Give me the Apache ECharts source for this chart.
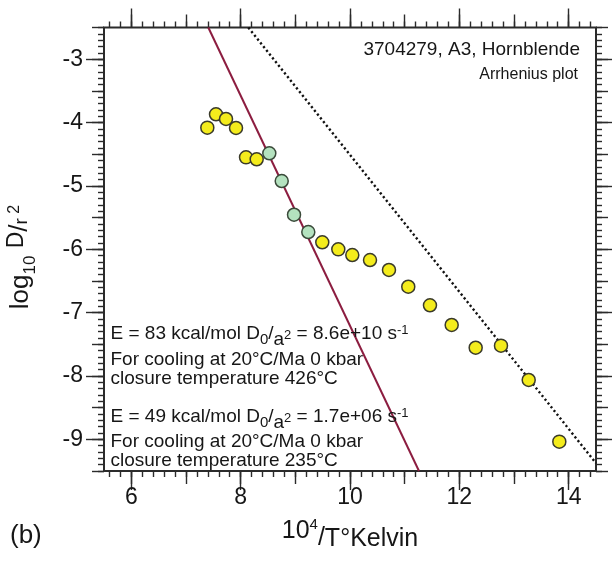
<!DOCTYPE html>
<html><head><meta charset="utf-8">
<script src="https://cdn.jsdelivr.net/npm/echarts@6/dist/echarts.min.js"></script>
<style>html,body{margin:0;padding:0;background:#fff}#c{width:612px;height:562px}</style>
</head><body><div id="c"></div><script>
// ---- data ----
const yellowX = [7.390, 7.549, 7.732, 7.915, 8.098, 8.293, 9.493, 9.786, 10.042, 10.366, 10.713, 11.066, 11.463, 11.860, 12.299, 12.762, 13.269, 13.829];
const yellowY = [-4.081, -3.870, -3.944, -4.086, -4.549, -4.580, -5.890, -6.001, -6.091, -6.170, -6.327, -6.591, -6.884, -7.195, -7.554, -7.522, -8.063, -9.037];
const greenX = [8.524, 8.751, 8.976, 9.237];
const greenY = [-4.485, -4.923, -5.455, -5.728];
const fitSolidX = [7.408, 11.262];
const fitSolidY = [-2.5, -9.5];
const fitDotX = [8.14, 14.5];
const fitDotY = [-2.5, -9.375];
const xRange = [5.5, 14.5];
const yRange = [-9.5, -2.5];
const xTickLabels = [6, 8, 10, 12, 14];
const yTickLabels = [-9, -8, -7, -6, -5, -4, -3];

// ---- layout ----
const L = 104, T = 27.5, W = 492, H = 443.5;
const pxX = W / (xRange[1] - xRange[0]);
const pxY = H / (yRange[1] - yRange[0]);
const FONT = '"Liberation Sans", Arial, Helvetica, sans-serif';
const AX = '#2b2b2b';
const TXT = '#161616';

const xMinor = [xRange[0] + 0.1, xRange[1] - 0.1];
const gridMain = { left: L, top: T, width: W, height: H, show: true, borderColor: AX, borderWidth: 2, backgroundColor: '#fff', outerBoundsMode: 'none', containLabel: false };
const gridXMinor = { left: L + (xMinor[0] - xRange[0]) * pxX, top: T, width: (xMinor[1] - xMinor[0]) * pxX, height: H, outerBoundsMode: 'none', containLabel: false };
const gridXMajor = { left: L + (xTickLabels[0] - xRange[0]) * pxX, top: T, width: (xTickLabels[xTickLabels.length - 1] - xTickLabels[0]) * pxX, height: H, outerBoundsMode: 'none', containLabel: false };
const gridYMajor = { left: L, top: T + (yRange[1] - yTickLabels[yTickLabels.length - 1]) * pxY, width: W, height: (yTickLabels[yTickLabels.length - 1] - yTickLabels[0]) * pxY, outerBoundsMode: 'none', containLabel: false };

function tickAxis(gridIndex, position, min, max, interval, len, label) {
  return {
    type: 'value', gridIndex, position, min, max, interval,
    axisLine: { show: false },
    splitLine: { show: false },
    axisTick: { show: true, length: len, lineStyle: { color: AX, width: 1.4 } },
    axisLabel: label ? Object.assign({ show: true, fontSize: 23, fontFamily: FONT, color: TXT }, label) : { show: false }
  };
}
function hiddenAxis(gridIndex, min, max) {
  return { type: 'value', gridIndex, min, max, show: false };
}

const xAxes = [
  { type: 'value', gridIndex: 0, min: xRange[0], max: xRange[1], show: false },
  tickAxis(1, 'bottom', xMinor[0], xMinor[1], 0.2, 6),
  tickAxis(1, 'top', xMinor[0], xMinor[1], 0.2, 6),
  tickAxis(2, 'bottom', xTickLabels[0], xTickLabels[xTickLabels.length - 1], 1, 13),
  tickAxis(2, 'top', xTickLabels[0], xTickLabels[xTickLabels.length - 1], 1, 13),
  tickAxis(2, 'bottom', xTickLabels[0], xTickLabels[xTickLabels.length - 1], 2, 19, { margin: 15 }),
  tickAxis(2, 'top', xTickLabels[0], xTickLabels[xTickLabels.length - 1], 2, 19),
  hiddenAxis(3, xRange[0], xRange[1])
];
const yAxes = [
  tickAxis(0, 'left', yRange[0], yRange[1], 0.1, 6),
  tickAxis(0, 'right', yRange[0], yRange[1], 0.1, 6),
  tickAxis(0, 'left', yRange[0], yRange[1], 0.5, 12),
  tickAxis(0, 'right', yRange[0], yRange[1], 0.5, 12),
  hiddenAxis(1, yRange[0], yRange[1]),
  hiddenAxis(2, yRange[0], yRange[1]),
  tickAxis(3, 'left', yTickLabels[0], yTickLabels[yTickLabels.length - 1], 1, 18, { margin: 21 }),
  tickAxis(3, 'right', yTickLabels[0], yTickLabels[yTickLabels.length - 1], 1, 18)
];

function pairs(xs, ys) { return xs.map((x, i) => [x, ys[i]]); }

// ---- text helpers ----
function tok(size, shift, extra) {
  const s = { fontSize: size, fontFamily: FONT, fill: TXT, verticalAlign: 'middle' };
  if (shift > 0) s.padding = [2 * shift, 0, 0, 0];
  else if (shift < 0) s.padding = [0, 0, -2 * shift, 0];
  return Object.assign(s, extra || {});
}
function textEl(x, y, text, rich, align, rotation) {
  return {
    type: 'text', x, y, rotation: rotation || 0, z: 100,
    style: { text, rich, align: align || 'left', verticalAlign: 'middle', fill: TXT, fontFamily: FONT, fontSize: 19 }
  };
}
const annRich = { n: tok(19, 0), s0: tok(15, 6.4), a: tok(19, 6.7), s2: tok(13, 2.1), m1: tok(13, -2.9) };
const AXN = 25;

const graphics = [
  textEl(580, 50.1, '{n|3704279, A3, Hornblende}', { n: tok(19, 0) }, 'right'),
  textEl(578, 74.5, '{n|Arrhenius plot}', { n: tok(16, 0) }, 'right'),
  textEl(110.5, 333.4, '{n|E = 83 kcal/mol D}{s0|0}{n|/}{a|a}{s2|2}{n| = 8.6e+10 s}{m1|-1}', annRich),
  textEl(110.5, 359.9, '{n|For cooling at 20°C/Ma 0 kbar}', annRich),
  textEl(110.5, 378.4, '{n|closure temperature 426°C}', annRich),
  textEl(110.5, 416.4, '{n|E = 49 kcal/mol D}{s0|0}{n|/}{a|a}{s2|2}{n| = 1.7e+06 s}{m1|-1}', annRich),
  textEl(110.5, 441.4, '{n|For cooling at 20°C/Ma 0 kbar}', annRich),
  textEl(110.5, 460.4, '{n|closure temperature 235°C}', annRich),
  // x axis name
  textEl(350, 548 - 0.3465 * AXN, '{t|10}{p|4}{sl|/}{b|T°Kelvin}',
    { t: tok(AXN, -8), b: tok(AXN, 0), p: tok(15, -14.5), sl: tok(AXN, -1.5) }, 'center'),
  // (b)
  textEl(10, 536, '{b|(b)}', { b: tok(26, 0) }, 'left'),
  // y axis name (rotated)
  textEl(20.5, 257, '{b|log}{s|10}{b| }{d|D}{sl|/}{r|r}{q| 2}',
    { b: tok(26, 0), s: tok(17, 10.3), d: tok(23, -3.5), sl: tok(26, -1), r: tok(19, 1.2), q: tok(16, -6) }, 'center', Math.PI / 2)
];

const chart = echarts.init(document.getElementById('c'), null, { renderer: 'canvas' });
chart.setOption({
  animation: false,
  backgroundColor: '#fff',
  grid: [gridMain, gridXMinor, gridXMajor, gridYMajor],
  xAxis: xAxes,
  yAxis: yAxes,
  graphic: graphics,
  series: [
    { type: 'line', xAxisIndex: 0, yAxisIndex: 0, data: pairs(fitSolidX, fitSolidY), symbol: 'none',
      lineStyle: { color: '#8c1d40', width: 2 }, z: 3 },
    { type: 'line', xAxisIndex: 0, yAxisIndex: 0, data: pairs(fitDotX, fitDotY), symbol: 'none',
      lineStyle: { color: '#111', width: 2.4, type: [2.2, 2.6] }, z: 3 },
    { type: 'scatter', xAxisIndex: 0, yAxisIndex: 0, data: pairs(yellowX, yellowY), symbolSize: 13,
      itemStyle: { color: '#f4ec1c', borderColor: '#3a3a2a', borderWidth: 1.5, opacity: 1 }, z: 5 },
    { type: 'scatter', xAxisIndex: 0, yAxisIndex: 0, data: pairs(greenX, greenY), symbolSize: 13,
      itemStyle: { color: '#b4e2bf', borderColor: '#3a4a3a', borderWidth: 1.5, opacity: 1 }, z: 5 }
  ]
});
</script></body></html>
